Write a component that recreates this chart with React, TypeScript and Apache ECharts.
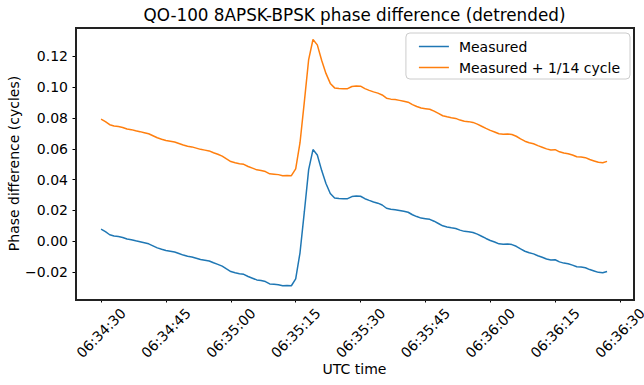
import React, { useEffect, useRef } from "react";
import * as echarts from "echarts";

const startTime = "06:34:30";
// seconds after startTime, one sample per second
const measured = [
  0.0078, 0.0062, 0.0042, 0.0034, 0.003, 0.0024, 0.0014, 0.001, 0.0003, -0.0003,
  -0.001, -0.0017, -0.003, -0.0043, -0.0052, -0.006, -0.0065, -0.007, -0.008, -0.009,
  -0.0098, -0.0102, -0.011, -0.0118, -0.0123, -0.0128, -0.014, -0.015, -0.0162, -0.018,
  -0.0197, -0.0205, -0.0211, -0.0215, -0.0229, -0.024, -0.0251, -0.0255, -0.0262, -0.0277,
  -0.0279, -0.0282, -0.0289, -0.0288, -0.0289, -0.0245, -0.0075, 0.019, 0.0465, 0.0595,
  0.056, 0.046, 0.0375, 0.031, 0.0281, 0.0277, 0.0276, 0.0276, 0.029, 0.0293,
  0.0292, 0.0276, 0.0265, 0.0255, 0.0247, 0.0235, 0.0214, 0.0208, 0.0205, 0.02,
  0.0194, 0.0188, 0.0172, 0.016, 0.015, 0.0146, 0.0142, 0.013, 0.0115, 0.01,
  0.0093, 0.0087, 0.0083, 0.0072, 0.0064, 0.0062, 0.0057, 0.0046, 0.0032, 0.0018,
  0.0005, -0.0005, -0.0017, -0.002, -0.0018, -0.0022, -0.0033, -0.005, -0.0065, -0.0075,
  -0.0082, -0.0094, -0.0104, -0.0115, -0.0122, -0.012, -0.0134, -0.0142, -0.0146, -0.0155,
  -0.0166, -0.0168, -0.0172, -0.0184, -0.0193, -0.0202, -0.0205, -0.0196,
];
const cycleOffset = 1 / 14;
const xTickSeconds = [0, 15, 30, 45, 60, 75, 90, 105, 120];
const yTicks = [-0.02, 0, 0.02, 0.04, 0.06, 0.08, 0.1, 0.12];
const seriesNames = ["Measured", "Measured + 1/14 cycle"];

const FONT = "DejaVu Sans";
const GRID = { left: 76, right: 11, top: 28, bottom: 86 };
const W = 644;
const H = 385;

function toSec(s: string) {
  const [h, m, sec] = s.split(":").map(Number);
  return h * 3600 + m * 60 + sec;
}
function fmtTime(v: number) {
  const t = Math.round(toSec(startTime) + v);
  const h = Math.floor(t / 3600);
  const m = Math.floor((t % 3600) / 60);
  const s = t % 60;
  const p = (n: number) => String(n).padStart(2, "0");
  return `${p(h)}:${p(m)}:${p(s)}`;
}

export default function App() {
  const ref = useRef<HTMLDivElement>(null);
  useEffect(() => {
    if (!ref.current) return;
    const chart = echarts.init(ref.current, null, { renderer: "svg" });
    const blue = measured.map((v, i) => [i, v]);
    const orange = measured.map((v, i) => [i, v + cycleOffset]);
    const axisLineStyle = { color: "#000000", width: 1 };
    const pw = W - GRID.left - GRID.right;
    const ph = H - GRID.top - GRID.bottom;
    chart.setOption({
      animation: false,
      backgroundColor: "#ffffff",
      title: {
        text: "QO-100 8APSK-BPSK phase difference (detrended)",
        left: 354.5,
        textAlign: "center",
        top: 6,
        padding: 0,
        textStyle: { fontFamily: FONT, fontSize: 16.8, fontWeight: "normal", color: "#000" },
      },
      legend: {
        data: seriesNames,
        orient: "vertical",
        right: 14,
        top: 33,
        padding: [5, 10, 3, 13],
        itemGap: 4,
        itemWidth: 30,
        itemHeight: 1.5,
        icon: "rect",
        borderColor: "#cccccc",
        borderWidth: 1,
        borderRadius: 4,
        backgroundColor: "#fff",
        align: "left",
        textStyle: { fontFamily: FONT, fontSize: 14, color: "#000", padding: [0, 0, 0, 5], lineHeight: 17 },
      },
      grid: {
        ...GRID,
        show: false,
        containLabel: false,
        outerBoundsMode: "none",
      },
      graphic: {
        elements: [
          {
            type: "rect",
            z: 100,
            silent: true,
            left: GRID.left - 1,
            top: GRID.top - 1,
            shape: { x: 0, y: 0, width: pw + 1, height: ph + 1 },
            style: { fill: "rgba(0,0,0,0)", stroke: "#222222", lineWidth: 2 },
          },
        ],
      },
      xAxis: {
        type: "value",
        min: -5.8,
        max: 123,
        name: "UTC time",
        nameLocation: "middle",
        nameGap: 63,
        nameMoveOverlap: false,
        nameTextStyle: { fontFamily: FONT, fontSize: 14, color: "#000" },
        axisLine: { show: false, onZero: false },
        splitLine: { show: false },
        axisTick: { show: true, length: 3.5, lineStyle: axisLineStyle, customValues: xTickSeconds },
        axisLabel: {
          customValues: xTickSeconds,
          rotate: 45,
          align: "center",
          verticalAlign: "middle",
          margin: 34,
          fontFamily: FONT,
          fontSize: 14,
          color: "#000",
          formatter: (v: number) => fmtTime(v),
        },
      },
      yAxis: {
        type: "value",
        min: -0.0375,
        max: 0.1384,
        name: "Phase difference (cycles)",
        nameLocation: "middle",
        nameGap: 55,
        nameMoveOverlap: false,
        nameTextStyle: { fontFamily: FONT, fontSize: 14, color: "#000" },
        axisLine: { show: false, onZero: false },
        splitLine: { show: false },
        axisTick: { show: true, length: 3.5, lineStyle: axisLineStyle, customValues: yTicks },
        axisLabel: {
          customValues: yTicks,
          margin: 8,
          fontFamily: FONT,
          fontSize: 14,
          color: "#000",
          formatter: (v: number) => (v < 0 ? "\u2212" + Math.abs(v).toFixed(2) : v.toFixed(2)),
        },
      },
      series: [
        {
          name: seriesNames[0],
          type: "line",
          data: blue,
          symbol: "none",
          lineStyle: { color: "#1f77b4", width: 1.5 },
          itemStyle: { color: "#1f77b4" },
        },
        {
          name: seriesNames[1],
          type: "line",
          data: orange,
          symbol: "none",
          lineStyle: { color: "#ff7f0e", width: 1.5 },
          itemStyle: { color: "#ff7f0e" },
        },
      ],
    });
    return () => chart.dispose();
  }, []);
  return <div ref={ref} style={{ width: W, height: H, position: "absolute", left: 0, top: 0 }} />;
}
